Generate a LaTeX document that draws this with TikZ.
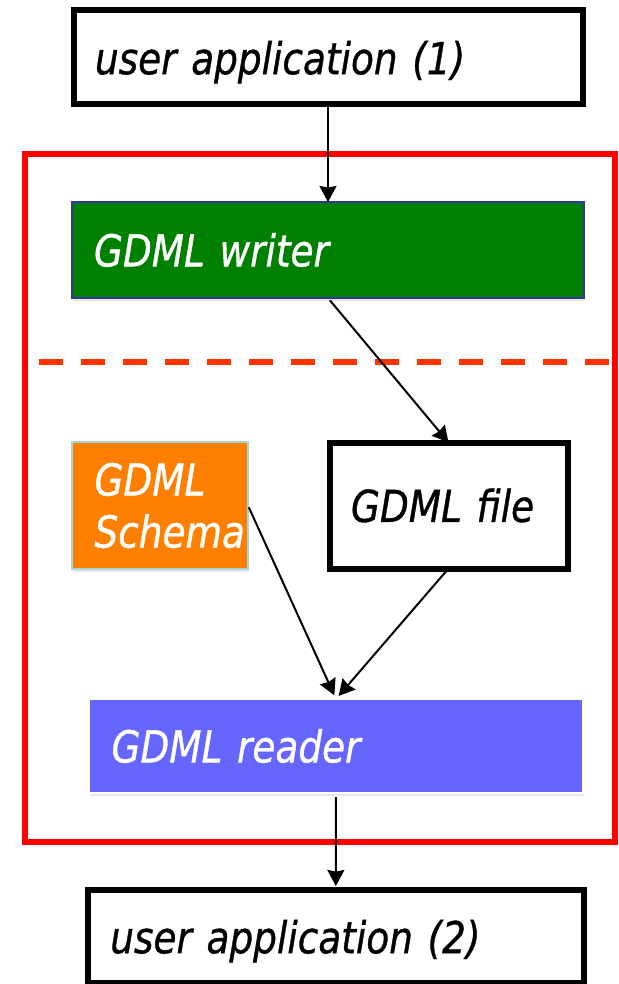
\documentclass[tikz,border=0pt]{standalone}
\usepackage{fontspec}
\usetikzlibrary{arrows.meta,shadows}
\newfontfamily\gdmlfont[FakeStretch=0.85, FakeBold=0.8]{DejaVu Sans}
\definecolor{writergreen}{HTML}{008000}
\definecolor{schemaorange}{HTML}{FF8000}
\definecolor{readerblue}{HTML}{6666FF}
\definecolor{writerborder}{HTML}{333399}
\definecolor{schemaborder}{HTML}{A8D4DC}
\definecolor{dashred}{HTML}{FF3300}
\tikzset{
    gdmlbox/.style={rectangle, align=left, anchor=center, outer sep=0pt, inner ysep=0pt,
        font=\gdmlfont\itshape\fontsize{44}{52}\selectfont},
    appbox/.style={gdmlbox, draw=black, line width=6pt, fill=white, text depth=0pt},
    filledbox/.style={gdmlbox, text=white, line width=1.5pt,
        drop shadow={shadow xshift=1pt, shadow yshift=-3pt, opacity=0.18}},
    flow/.style={-{Stealth[length=16pt, width=17pt, inset=1.5pt]}, line width=2pt}
}

\begin{document}
\begin{tikzpicture}[x=1pt, y=-1pt]
    \useasboundingbox (0,0) rectangle (618,984);
    \fill[white] (0,0) rectangle (618,984);

    \draw[red, line width=6pt] (24.6,154) rectangle (615.2,842);
    \draw[dashred, line width=6pt, dash pattern=on 24pt off 18pt] (39,362) -- (610,362);

    \node[appbox, minimum width=509pt, minimum height=94pt, inner xsep=21.5pt, text width=466pt]
        (app1) at (328,57.5) {user application (1)};
    \node[filledbox, fill=writergreen, draw=writerborder, minimum width=512pt, minimum height=96pt,
        inner xsep=22pt, text width=468pt] (writer) at (328,250) {GDML writer};
    \node[filledbox, fill=schemaorange, draw=schemaborder, minimum width=176pt, minimum height=127pt,
        inner xsep=22.5pt, text width=131pt] (schema) at (160,505.5) {GDML\\Schema};
    \node[appbox, text depth=, minimum width=238pt, minimum height=126pt, inner xsep=21.5pt, text width=195pt]
        (file) at (448.5,505.5) {GDML file};
    \node[filledbox, fill=readerblue, draw=white, minimum width=494pt, minimum height=94pt,
        inner xsep=22.5pt, text width=449pt] (reader) at (336,746) {GDML reader};
    \node[appbox, minimum width=496pt, minimum height=93pt, inner xsep=22.2pt, text width=451pt]
        (app2) at (335.8,936.5) {user application (2)};

    \draw[flow] (app1.south) -- (writer.north);
    \draw[flow, shorten <=3pt] (writer.south) -- (file.north);
    \draw[flow, shorten <=2pt, shorten >=4pt] (schema.east) -- (reader.north);
    \draw[flow, shorten <=3pt, shorten >=4pt] (file.south) -- (reader.north);
    \draw[flow, shorten <=4pt, shorten >=4pt] (reader.south) -- (app2.north);
\end{tikzpicture}
\end{document}
